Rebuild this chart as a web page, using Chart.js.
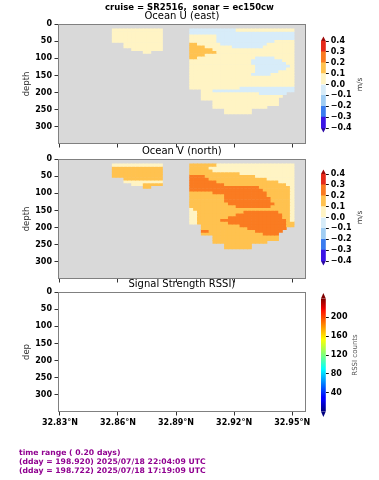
<!doctype html>
<html>

<head>
    <meta charset="utf-8">
    <title>ADCP section</title>
    <script src="https://cdn.jsdelivr.net/npm/chart.js"></script>
    <style>
        body { margin: 0; background: #fff; }
        #fig { position: relative; width: 379px; height: 480px; overflow: hidden; font-family: "DejaVu Sans", sans-serif; }
        #fig canvas { position: absolute; }
        .txt { position: absolute; white-space: pre; }
    </style>
</head>

<body>
    <div id="fig">
        <canvas id="uMap" width="318" height="152" style="left:0;top:0"></canvas>
        <canvas id="vMap" width="318" height="152" style="left:0;top:135px"></canvas>
        <canvas id="rssiMap" width="318" height="166" style="left:0;top:268px"></canvas>
        <canvas id="uBar" width="69" height="107" style="left:310px;top:31px"></canvas>
        <canvas id="vBar" width="69" height="107" style="left:310px;top:164px"></canvas>
        <canvas id="rssiBar" width="69" height="134" style="left:310px;top:288px"></canvas>
        <div class="txt" style="left:0;width:379px;text-align:center;top:2px;font-size:8.5px;line-height:10px;font-weight:bold">cruise = SR2516,  sonar = ec150cw</div>
        <div class="txt" style="left:19px;top:448px;font-size:7.7px;line-height:9px;font-weight:bold;color:#900090">time range ( 0.20 days)
(dday = 198.920) 2025/07/18 22:04:09 UTC
(dday = 198.722) 2025/07/18 17:19:09 UTC</div>
    </div>

    <script>
        Chart.defaults.font.family = "'DejaVu Sans', sans-serif";

        // profile latitudes (deg N) of the two stretches with data
        var leftLats = [32.858, 32.860, 32.862, 32.864, 32.866, 32.868, 32.870, 32.872, 32.874, 32.876, 32.878, 32.880, 32.882];
        var rightLats = [32.898, 32.900, 32.902, 32.904, 32.906, 32.908, 32.910, 32.912, 32.914, 32.916, 32.918, 32.920, 32.922, 32.924,
            32.926, 32.928, 32.930, 32.932, 32.934, 32.936, 32.938, 32.940, 32.942, 32.944, 32.946, 32.948, 32.950];
        // depth bin edges (m)
        var depthEdges = [14, 22, 30, 38, 46, 54, 62, 70, 78, 86, 94, 102, 110, 118, 126, 134, 142, 150, 158, 166, 174, 182, 190, 198,
            206, 214, 222, 230, 238, 246, 254, 262];

        // velocity per band letter (m/s); '.' = no data
        var bandValue = { '.': null, b: -0.05, y: 0.05, o: 0.15, O: 0.25 };

        // rows of depth bins, run-length coded: letter + count of profiles
        var uLeft = ['y13', 'y13', 'y13', 'y13', 'y13', '.3 y10', '.3 y10', '.5 y8', '.8 y2 .3'];
        var uRight = ['b12 y15', 'b27', 'y7 b20', 'y7 b20', 'y7 b15 y5', 'o2 y6 b12 y7', 'o4 y7 b8 y8', 'o6 y21', 'o7 y20',
            'o4 y23', 'o2 y15 b5 y5', 'y16 b8 y3', 'y16 b9 y2', 'y17 b9 y1', 'y17 b8 y2', 'y17 b6 y4', 'y16 b5 y6',
            'y27', 'y27', 'y27', 'y27', 'y13 b14', '.3 y3 b21', '.3 y15 b7 .2', '.3 y21 .3', '.3 y20 .4', '.6 y17 .4',
            '.6 y17 .4', '.6 y14 .7', '.9 y7 .11', '.9 y7 .11'];
        var vLeft = ['y13', 'o13', 'o13', 'o13', 'o13', '.3 o10', '.3 y10', '.5 y3 o5', '.8 o2 .3'];
        var vRight = ['o7 y20', 'o5 y22', 'o6 y21', 'o13 y14', 'O4 o13 y10', 'O5 o15 y7', 'O7 o16 y4', 'O9 o16 y2',
            'O18 o8 y1', 'O19 o7 y1', 'o6 O14 o6 y1', 'o9 O11 o6 y1', 'o9 O12 o5 y1', 'o9 O12 o5 y1', 'o10 O12 o4 y1',
            'o12 O9 o5 y1', 'y1 o25 y1', 'y2 o12 O9 o3 y1', 'y2 o10 O12 o2 y1', 'y2 o8 O14 o2 y1', 'y2 o6 O17 o1 y1',
            'y2 o8 O15 o2', '.3 o10 O12 o2', '.3 o12 O10 .2', '.3 O2 o12 O7 .3', '.3 o16 O4 .4', '.6 o17 .4', '.6 o17 .4',
            '.6 o14 .7', '.9 o7 .11', '.9 o7 .11'];

        var latTicks = [32.83, 32.86, 32.89, 32.92, 32.95];
        var depthTicks = [0, 50, 100, 150, 200, 250, 300];
        var velLevels = [-0.4, -0.3, -0.2, -0.1, 0.0, 0.1, 0.2, 0.3, 0.4];
        var velColors = ['#3a14e6', '#3b7cef', '#a0cdf3', '#d7ecf9', '#fff4c4', '#ffc24f', '#fa7b21', '#e62a1a'];
        var rssiTicks = [40, 80, 120, 160, 200];

        function unpack(rle) {
            var out = [];
            rle.split(' ').forEach(function (run) {
                var n = parseInt(run.slice(1), 10);
                for (var i = 0; i < n; i++) out.push(bandValue[run[0]]);
            });
            return out;
        }

        function velColor(v) {
            for (var i = 0; i < velColors.length; i++) {
                if (v < velLevels[i + 1]) return velColors[i];
            }
            return velColors[velColors.length - 1];
        }

        function sectionDatasets(leftRows, rightRows) {
            return depthEdges.slice(0, -1).map(function (top, k) {
                var cells = [];
                [[leftLats, leftRows[k]], [rightLats, rightRows[k]]].forEach(function (block) {
                    if (!block[1]) return;
                    unpack(block[1]).forEach(function (v, i) {
                        if (v !== null && v !== undefined && i < block[0].length) {
                            cells.push({ x: block[0][i], y: [top, depthEdges[k + 1]], v: v });
                        }
                    });
                });
                return { data: cells, backgroundColor: cells.map(function (c) { return velColor(c.v); }) };
            });
        }

        // grey no-data background and the plot frame
        var frame = {
            id: 'frame',
            beforeDatasetsDraw: function (chart, args, o) {
                var a = chart.chartArea, c = chart.ctx;
                c.save();
                c.fillStyle = o.bg;
                c.fillRect(a.left, a.top, a.right - a.left, a.bottom - a.top);
                c.restore();
            },
            afterDraw: function (chart, args, o) {
                var a = chart.chartArea, c = chart.ctx;
                var l = Math.round(a.left) + 0.5, t = Math.round(a.top) + 0.5;
                var r = Math.round(a.right) - 0.5, b = Math.round(a.bottom) - 0.5;
                c.save();
                c.strokeStyle = '#808080';
                c.lineWidth = 1;
                c.strokeRect(l, t, r - l, b - t);
                c.restore();
            }
        };

        function sectionChart(id, title, datasets, yTitle, showLat, bg, axisH) {
            return new Chart(document.getElementById(id), {
                type: 'bar',
                data: { datasets: datasets },
                options: {
                    responsive: false,
                    animation: false,
                    events: [],
                    layout: { padding: { top: 10, left: 0, right: 12.3, bottom: 0 } },
                    datasets: { bar: { grouped: false, barPercentage: 1, categoryPercentage: 1, borderWidth: 0 } },
                    plugins: {
                        legend: { display: false },
                        tooltip: { enabled: false },
                        title: {
                            display: true, text: title, fullSize: false, color: '#000',
                            font: { size: 10, weight: 'normal' }, padding: { top: 0, bottom: 2 }
                        },
                        frame: { bg: bg }
                    },
                    scales: {
                        x: {
                            type: 'linear', min: 32.829, max: 32.957, offset: false,
                            afterBuildTicks: function (s) { s.ticks = latTicks.map(function (v) { return { value: v }; }); },
                            afterFit: function (s) { s.height = axisH; },
                            grid: { offset: false, drawOnChartArea: false, tickLength: 3.5, color: '#333' },
                            border: { display: false },
                            ticks: {
                                display: showLat, autoSkip: false, maxRotation: 0, padding: 3, color: '#000',
                                font: { size: 8, weight: 'bold' },
                                callback: function (v) { return v.toFixed(2) + '°N'; }
                            }
                        },
                        y: {
                            type: 'linear', reverse: true, min: 0, max: 350,
                            afterBuildTicks: function (s) { s.ticks = depthTicks.map(function (v) { return { value: v }; }); },
                            afterFit: function (s) { s.width = 58; },
                            grid: { drawOnChartArea: false, tickLength: 3.5, color: '#333' },
                            border: { display: false },
                            ticks: { autoSkip: false, padding: 2.5, color: '#000', font: { size: 8, weight: 'bold' } },
                            title: { display: true, text: yTitle, color: '#333', font: { size: 8.5 }, padding: { top: 21.5, bottom: 0 } }
                        }
                    }
                },
                plugins: [frame]
            });
        }

        // extension triangles and the rotated label of a colour bar
        var cbarExtras = {
            id: 'cbarExtras',
            afterDatasetsDraw: function (chart, args, o) {
                var a = chart.chartArea, c = chart.ctx, mid = (a.left + a.right) / 2;
                c.save();
                c.fillStyle = o.over;
                c.beginPath(); c.moveTo(a.left, a.top); c.lineTo(a.right, a.top); c.lineTo(mid, a.top - o.tri); c.closePath(); c.fill();
                c.fillStyle = o.under;
                c.beginPath(); c.moveTo(a.left, a.bottom); c.lineTo(a.right, a.bottom); c.lineTo(mid, a.bottom + o.tri); c.closePath(); c.fill();
                c.translate(o.labelX, (a.top + a.bottom) / 2);
                c.rotate(-Math.PI / 2);
                c.textAlign = 'center';
                c.textBaseline = 'middle';
                c.font = o.labelSize + "px 'DejaVu Sans', sans-serif";
                c.fillStyle = o.labelColor;
                c.fillText(o.label, 0, 0);
                c.restore();
            }
        };

        function colorBar(id, datasets, min, max, ticks, fmt, extras, pad) {
            return new Chart(document.getElementById(id), {
                type: 'bar',
                data: { labels: [''], datasets: datasets },
                options: {
                    responsive: false,
                    animation: false,
                    events: [],
                    layout: { padding: { top: pad, bottom: pad, left: 11, right: 0 } },
                    datasets: { bar: { grouped: false, barPercentage: 1, categoryPercentage: 1, borderWidth: 0 } },
                    plugins: { legend: { display: false }, tooltip: { enabled: false }, cbarExtras: extras },
                    scales: {
                        x: { display: false },
                        y: {
                            position: 'right', min: min, max: max,
                            afterBuildTicks: function (s) { s.ticks = ticks.map(function (v) { return { value: v }; }); },
                            afterFit: function (s) { s.width = 69 - 11 - 4.8; },
                            grid: { drawOnChartArea: false, tickLength: 3, color: '#111' },
                            border: { display: false },
                            ticks: { autoSkip: false, padding: 2, color: '#000', font: { size: 8, weight: 'bold' }, callback: fmt }
                        }
                    }
                },
                plugins: [cbarExtras]
            });
        }

        sectionChart('uMap', 'Ocean U (east)', sectionDatasets(uLeft, uRight), 'depth', false, '#d9d9d9', 8);
        sectionChart('vMap', 'Ocean V (north)', sectionDatasets(vLeft, vRight), 'depth', false, '#d9d9d9', 8);
        sectionChart('rssiMap', 'Signal Strength RSSI)', [], 'dep', true, '#ffffff', 22);

        var velBands = velColors.map(function (col, i) {
            return { data: [[velLevels[i], velLevels[i + 1]]], backgroundColor: col };
        });
        function velFmt(v) { return (v < -1e-9 ? '\u2212' : '') + Math.abs(v).toFixed(1); }
        var velExtras = { over: '#9e0a0a', under: '#2c0aa6', tri: 4.5, label: 'm/s', labelX: 50, labelSize: 7.5, labelColor: '#333' };
        colorBar('uBar', velBands, -0.4, 0.4, velLevels, velFmt, velExtras, 10);
        colorBar('vBar', velBands.map(function (d) { return Object.assign({}, d); }), -0.4, 0.4, velLevels, velFmt, velExtras, 10);

        // matplotlib "jet" colour map as a vertical gradient
        var jetStops = [[0, '#000080'], [0.11, '#0000ff'], [0.125, '#0000ff'], [0.34, '#00dcff'], [0.375, '#00ffff'],
            [0.5, '#7dff7a'], [0.64, '#ffff00'], [0.66, '#ffea00'], [0.89, '#ff1300'], [0.91, '#ed0000'], [1, '#800000']];
        var rssiBand = [{
            data: [[0, 240]],
            backgroundColor: function (ctx) {
                var chart = ctx.chart, ys = chart.scales.y;
                if (!chart.chartArea || !ys) return '#00ffff';
                var g = chart.ctx.createLinearGradient(0, ys.getPixelForValue(0), 0, ys.getPixelForValue(240));
                jetStops.forEach(function (s) { g.addColorStop(s[0], s[1]); });
                return g;
            }
        }];
        colorBar('rssiBar', rssiBand, 0, 240, rssiTicks, function (v) { return String(v); },
            { over: '#800000', under: '#000080', tri: 5.5, label: 'RSSI counts', labelX: 45, labelSize: 7, labelColor: '#555' }, 10.5);
    </script>
</body>

</html>
